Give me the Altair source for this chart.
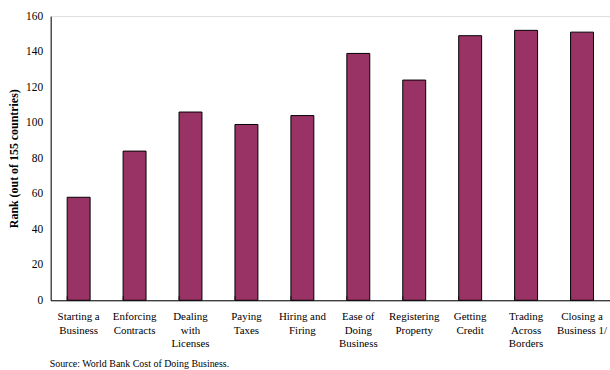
import altair as alt
import pandas as pd

# Doing Business indicators and the country's rank on each
categories = [
    "Starting a\nBusiness",
    "Enforcing\nContracts",
    "Dealing\nwith\nLicenses",
    "Paying\nTaxes",
    "Hiring and\nFiring",
    "Ease of\nDoing\nBusiness",
    "Registering\nProperty",
    "Getting\nCredit",
    "Trading\nAcross\nBorders",
    "Closing a\nBusiness 1/",
]
ranks = [58, 84, 106, 99, 104, 139, 124, 149, 152, 151]
y_ticks = [0, 20, 40, 60, 80, 100, 120, 140, 160]

df = pd.DataFrame({"indicator": categories, "rank": ranks})

FONT = "Liberation Serif"
x_enc = alt.X(
    "indicator:N",
    sort=categories,
    scale=alt.Scale(paddingInner=0.59, paddingOuter=0.295),
    axis=alt.Axis(
        title=None,
        labelAngle=0,
        labelExpr="split(datum.label, '\\n')",
        labelFont=FONT,
        labelFontSize=11,
        labelColor="black",
        labelLineHeight=14,
        labelPadding=10,
        labelLimit=0,
        labelOverlap=False,
        labelBound=False,
        ticks=False,
        domainColor="black",
    ),
)

y_scale = alt.Scale(domain=[0, 160], nice=False)
y_axis = alt.Axis(
    title="Rank (out of 155 countries)",
    titleFont=FONT,
    titleFontSize=12,
    titleFontWeight="bold",
    titleColor="black",
    titlePadding=5,
    values=y_ticks,
    labelFont=FONT,
    labelFontSize=11.5,
    labelColor="black",
    labelPadding=8,
    labelOverlap=False,
    grid=False,
    ticks=False,
    domainColor="black",
)

bars = alt.Chart(df).mark_bar(
    color="#993366", stroke="black", strokeWidth=1
).encode(
    x=x_enc,
    y=alt.Y("rank:Q", scale=y_scale, axis=y_axis),
)

# small inward tick marks at the category boundaries
ticks = alt.Chart(df).mark_tick(
    color="black", orient="vertical", size=4, thickness=1, yOffset=-2
).encode(
    x=alt.X("indicator:N", sort=categories, bandPosition=0),
    y=alt.YDatum(0, scale=y_scale, axis=y_axis),
)

chart = (
    alt.layer(bars, ticks)
    .properties(
        width=563,
        height=286,
        autosize=alt.AutoSizeParams(type="none"),
        padding={"left": 51, "top": 15, "right": 0, "bottom": 80},
        title=alt.TitleParams(
            "Source: World Bank Cost of Doing Business.",
            orient="bottom",
            anchor="start",
            frame="group",
            font=FONT,
            fontSize=10,
            fontWeight="normal",
            color="black",
            offset=10,
            dx=-1,
        ),
    )
    .configure_view(stroke="#b4b4b4", strokeWidth=1.5)
    .configure(background="white")
)

chart.save("out.html", embed_options={"renderer": "svg", "actions": False})
